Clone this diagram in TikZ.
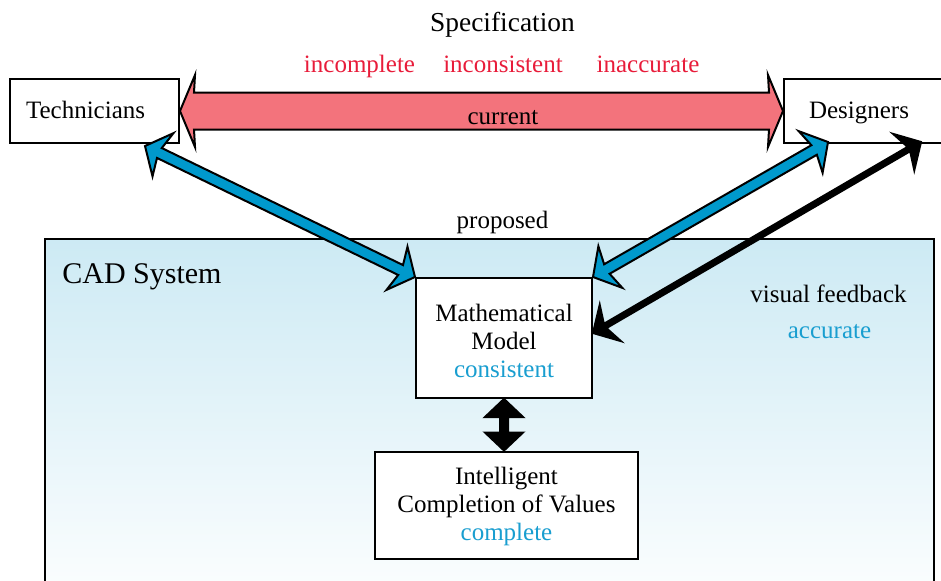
\documentclass[tikz,border=0pt]{standalone}
\usepackage{fontspec}
\setmainfont{Liberation Serif}
\usepackage{xcolor}
\usepackage{tikz}
\usetikzlibrary{positioning,calc}
\definecolor{specred}{RGB}{232,28,58}
\definecolor{currentred}{RGB}{243,115,124}
\definecolor{proposedblue}{RGB}{0,153,204}
\definecolor{goodblue}{RGB}{25,158,208}
\definecolor{cadtop}{RGB}{205,234,244}
\newcommand{\bodyfont}{\fontsize{12.5}{14}\selectfont}
% fat double-headed arrow: style, from, to, shaft, head, head length, join
\newcommand{\blockarrow}[7]{%
  \filldraw[#1] (#2)
    -- ($(#2)!#6!(#3)!#5!90:(#3)$)
    -- ($(#2)!#7!(#3)!#4!90:(#3)$)
    -- ($(#3)!#7!(#2)!#4!-90:(#2)$)
    -- ($(#3)!#6!(#2)!#5!-90:(#2)$)
    -- (#3)
    -- ($(#3)!#6!(#2)!#5!90:(#2)$)
    -- ($(#3)!#7!(#2)!#4!90:(#2)$)
    -- ($(#2)!#7!(#3)!#4!-90:(#3)$)
    -- ($(#2)!#6!(#3)!#5!-90:(#3)$)
    -- cycle;}
\tikzset{
  party-node/.style={draw=black, line width=1pt, fill=white, minimum height=32pt,
    text height=9.5pt, text depth=2.5pt, align=left, font=\bodyfont},
  model-node/.style={draw=black, line width=1pt, fill=white, align=center,
    font=\bodyfont},
  plain-label/.style={font=\bodyfont, inner sep=0pt},
  flaw-label/.style={plain-label, text=specred},
  merit-label/.style={plain-label, text=goodblue},
  title-label/.style={font=\fontsize{15}{18}\selectfont, inner sep=0pt},
  cad-panel/.style={draw=black, line width=1.2pt, top color=cadtop, bottom color=white,
    inner sep=0pt},
  current-arrow/.style={draw=black, line width=1pt, fill=currentred},
  proposed-arrow/.style={draw=black, line width=1pt, fill=proposedblue},
  feedback-arrow/.style={draw=black, line width=1pt, fill=black}
}

\begin{document}
\begin{tikzpicture}[x=0.5pt, y=-0.5pt]
\useasboundingbox (0,0) rectangle (941,580);
\clip (0,0) rectangle (941,580);

% CAD system panel
\node[cad-panel, anchor=north west, minimum width=444.5pt, minimum height=191pt] (cad) at (44,238) {};
\node[title-label, anchor=base west] (cadtitle) at (62,283) {CAD System};

% Specification labels
\node[plain-label, font=\fontsize{13.7}{16}\selectfont, anchor=base] (spec) at (502.5,31) {Specification};
\node[flaw-label, anchor=base] (incomplete) at (359.5,72) {incomplete};
\node[flaw-label, anchor=base] (inconsistent) at (503,72) {inconsistent};
\node[flaw-label, anchor=base] (inaccurate) at (648,72) {inaccurate};
\node[plain-label, anchor=base] (proposed) at (502.5,228) {proposed};
\node[plain-label, anchor=base] (feedback) at (828.5,302) {visual feedback};
\node[merit-label, anchor=base] (accurate) at (829.5,338) {accurate};

% People and models
\node[party-node, text width=68.5pt, inner xsep=8pt, anchor=west] (tech) at (9,111) {Technicians};
\node[party-node, text width=58.5pt, inner xsep=12.5pt, anchor=west] (design) at (783,111) {Designers};
\node[model-node, minimum width=88pt, minimum height=60pt] (model) at (504,338)
  {\rule{0pt}{11.5pt}Mathematical\\Model\\\textcolor{goodblue}{consistent}};
\node[model-node, minimum width=131.5pt, minimum height=53.5pt] (values) at (506.5,505)
  {\rule{0pt}{10pt}Intelligent\\Completion of Values\\\textcolor{goodblue}{complete}};

% Arrow ends
\coordinate (techtip) at ($(tech.south east)+(-35,2)$);
\coordinate (designtip) at ($(design.south west)+(45,-2)$);
\coordinate (feedtip) at ($(design.south west)+(138,-2)$);
\coordinate (modeltip) at ($(model.east)+(0,-5)$);
\coordinate (valuestip) at (model.south |- values.north);

% Connecting arrows
\blockarrow{current-arrow}{tech.east}{design.west}{9.25pt}{18pt}{7.5pt}{7pt}
\node[plain-label, anchor=base] (current) at (503,124) {current};
\blockarrow{proposed-arrow}{techtip}{model.north west}{2.75pt}{12pt}{10pt}{8pt}
\blockarrow{proposed-arrow}{model.north east}{designtip}{2.75pt}{12pt}{10pt}{8pt}
\blockarrow{feedback-arrow}{modeltip}{feedtip}{1.25pt}{10.5pt}{10pt}{7pt}
\blockarrow{feedback-arrow}{model.south}{valuestip}{2pt}{9.5pt}{9pt}{9pt}
\end{tikzpicture}
\end{document}
